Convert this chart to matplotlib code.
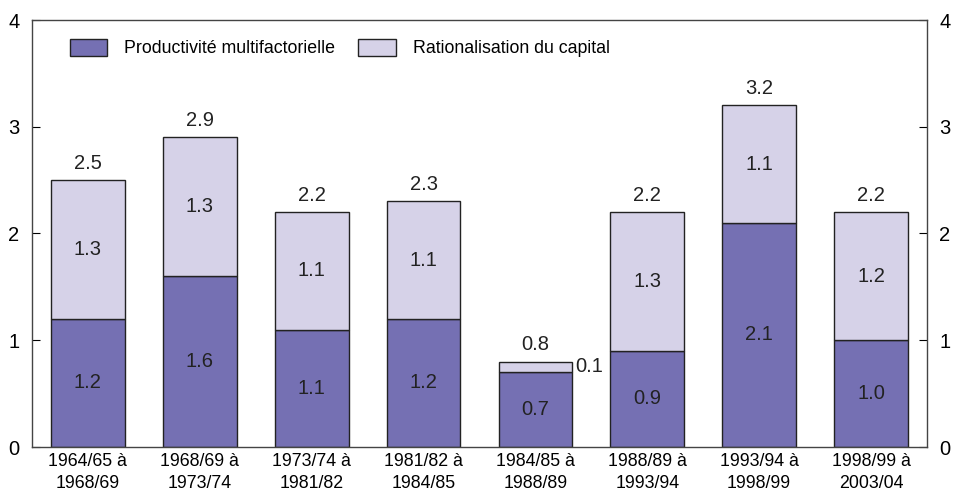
import matplotlib.pyplot as plt
import numpy as np

plt.rcParams['font.family'] = ['Liberation Sans', 'DejaVu Sans']

periods = ["1964/65 à\n1968/69", "1968/69 à\n1973/74", "1973/74 à\n1981/82", "1981/82 à\n1984/85",
           "1984/85 à\n1988/89", "1988/89 à\n1993/94", "1993/94 à\n1998/99", "1998/99 à\n2003/04"]
mfp = [1.2, 1.6, 1.1, 1.2, 0.7, 0.9, 2.1, 1.0]
capital = [1.3, 1.3, 1.1, 1.1, 0.1, 1.3, 1.1, 1.2]
totals = [2.5, 2.9, 2.2, 2.3, 0.8, 2.2, 3.2, 2.2]

dark = '#7570b3'
light = '#d6d2e8'

fig = plt.figure(figsize=(9.54, 4.94), dpi=100)
ax = fig.add_axes([32/954, 1 - 447/494, (927-32)/954, (447-20)/494])

x = np.arange(len(periods))
w = 0.66
ax.bar(x, mfp, width=w, color=dark, edgecolor='#222222', linewidth=1.0,
       label='Productivité multifactorielle')
ax.bar(x, capital, width=w, bottom=mfp, color=light, edgecolor='#222222', linewidth=1.0,
       label='Rationalisation du capital')

fs = 14.5
for i in range(len(x)):
    ax.text(x[i], mfp[i] / 2, f"{mfp[i]:.1f}", ha='center', va='center', fontsize=fs, color='#222222')
    if capital[i] >= 0.3:
        ax.text(x[i], mfp[i] + capital[i] / 2, f"{capital[i]:.1f}", ha='center', va='center',
                fontsize=fs, color='#222222')
    else:
        ax.text(x[i] + w / 2 + 0.03, mfp[i] + capital[i] / 2, f"{capital[i]:.1f}", ha='left',
                va='center', fontsize=fs, color='#222222')
    ax.text(x[i], totals[i] + 0.07, f"{totals[i]:.1f}", ha='center', va='bottom', fontsize=fs,
            color='#222222')

ax.set_xlim(-0.5, len(x) - 0.5)
ax.set_ylim(0, 4)
ax.set_yticks([0, 1, 2, 3, 4])
ax.set_xticks(x)
ax.set_xticklabels(periods, fontsize=12.8, linespacing=1.4)
ax.tick_params(axis='x', length=0, pad=4)
ax.tick_params(axis='y', direction='in', length=6, labelsize=14.5, left=True, right=True,
               labelleft=True, labelright=True, pad=9)
for s in ax.spines.values():
    s.set_color('#444444')
    s.set_linewidth(1.0)

ax.legend(loc='upper left', bbox_to_anchor=(38/895, (447-39)/427), ncol=2, frameon=False,
          fontsize=12.8, borderaxespad=0, borderpad=0,
          handlelength=2.1, handleheight=1.07, columnspacing=1.3, handletextpad=0.95)

fig.savefig('out.png', dpi=100)
